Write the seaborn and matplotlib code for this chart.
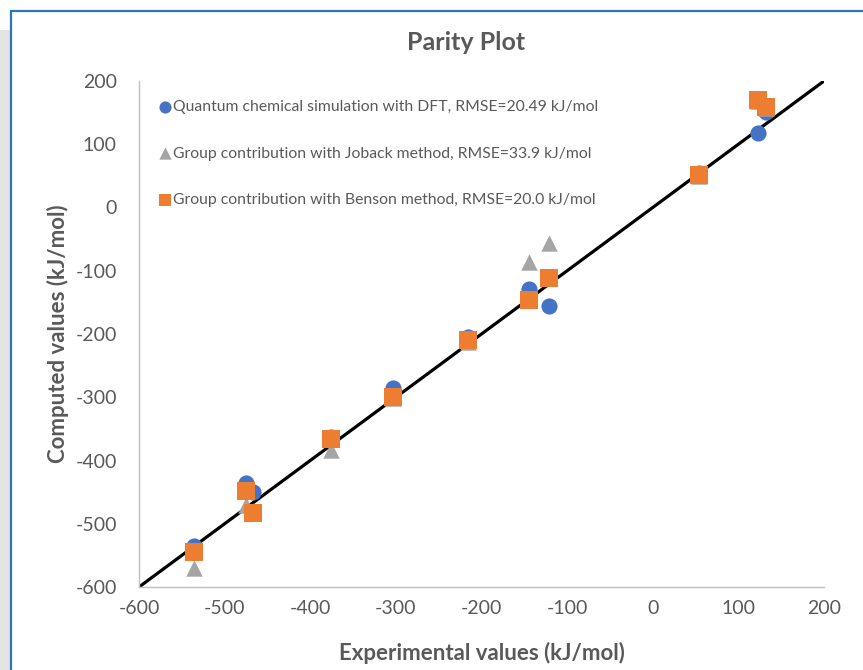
import numpy as np
import pandas as pd
import seaborn as sns
import matplotlib.pyplot as plt
from matplotlib.patches import Rectangle

# experimental vs computed enthalpies (kJ/mol)
experimental = [-536, -475, -467, -376, -303, -216, -145, -121, 54, 123, 132]
dft = [-535, -436, -450, -363, -285, -205, -129, -156, 54, 117, 151]
joback = [-570, -470, -480, -383, -301, -212, -86, -56, 50, 168, 157]
benson = [-544, -449, -483, -366, -299, -210, -146, -112, 51, 170, 159]

labels = ['Quantum chemical simulation with DFT, RMSE=20.49 kJ/mol',
          'Group contribution with Joback method, RMSE=33.9 kJ/mol',
          'Group contribution with Benson method, RMSE=20.0 kJ/mol']
parity = [-600, 200]
ticks = [-600, -500, -400, -300, -200, -100, 0, 100, 200]

sns.set_style('white')
plt.rcParams['font.family'] = ['Lato', 'DejaVu Sans']
plt.rcParams['axes.unicode_minus'] = False
grey_txt = '#595959'

fig = plt.figure(figsize=(8.63, 6.7), dpi=100, facecolor='white')
# chart frame like the excel chart area
fig.patches.append(Rectangle((0, 0), 11/863, 1 - 30/670, transform=fig.transFigure,
                             facecolor='#e4e4e4', edgecolor='none', zorder=-10))
fig.patches.append(Rectangle((11/863, -0.01), 1.0, 1 - 11/670 + 0.01, transform=fig.transFigure,
                             facecolor='white', edgecolor='#2E75B6', linewidth=1.6, zorder=-9))

ax = fig.add_axes([139/863, 83/670, 685/863, 506/670])
ax.set_facecolor('none')

ax.plot(parity, parity, color='black', linewidth=2.3, zorder=1)

df = pd.DataFrame({'exp': experimental, 'dft': dft, 'joback': joback, 'benson': benson})
sns.scatterplot(data=df, x='exp', y='dft', marker='o', color='#4472C4', s=135,
                linewidth=0, label=labels[0], ax=ax, zorder=3)
sns.scatterplot(data=df, x='exp', y='joback', marker='^', color='#A5A5A5', s=140,
                linewidth=0, label=labels[1], ax=ax, zorder=3)
sns.scatterplot(data=df, x='exp', y='benson', marker='s', color='#ED7D31', s=150,
                linewidth=0, label=labels[2], ax=ax, zorder=3)

ax.set_xlim(-600, 200)
ax.set_ylim(-600, 200)
ax.set_xticks(ticks)
ax.set_yticks(ticks)
ax.tick_params(axis='both', length=0, labelsize=14, labelcolor=grey_txt)
ax.tick_params(axis='y', pad=16)
ax.tick_params(axis='x', pad=9)
for side in ['top', 'right']:
    ax.spines[side].set_visible(False)
for side in ['left', 'bottom']:
    ax.spines[side].set_color('#BFBFBF')
    ax.spines[side].set_linewidth(1)

ax.set_xlabel('Experimental values (kJ/mol)', fontsize=16, fontweight='bold', color=grey_txt)
ax.set_ylabel('Computed values (kJ/mol)', fontsize=16, fontweight='bold', color=grey_txt)
ax.xaxis.set_label_coords(0.5, -0.108)
ax.yaxis.set_label_coords(-0.102, 0.5)

fig.text(466/863, 1 - 42/670, 'Parity Plot', fontsize=18, fontweight='bold',
         color=grey_txt, ha='center', va='center')

leg = ax.legend(loc='upper left', bbox_to_anchor=(0.031, 0.962), frameon=False,
                borderpad=0, borderaxespad=0, handlelength=0.6, handletextpad=0.2,
                labelspacing=2.06, markerscale=0.75, fontsize=11.3)
for t in leg.get_texts():
    t.set_color(grey_txt)

fig.savefig('out.png', dpi=100, facecolor=fig.get_facecolor())
